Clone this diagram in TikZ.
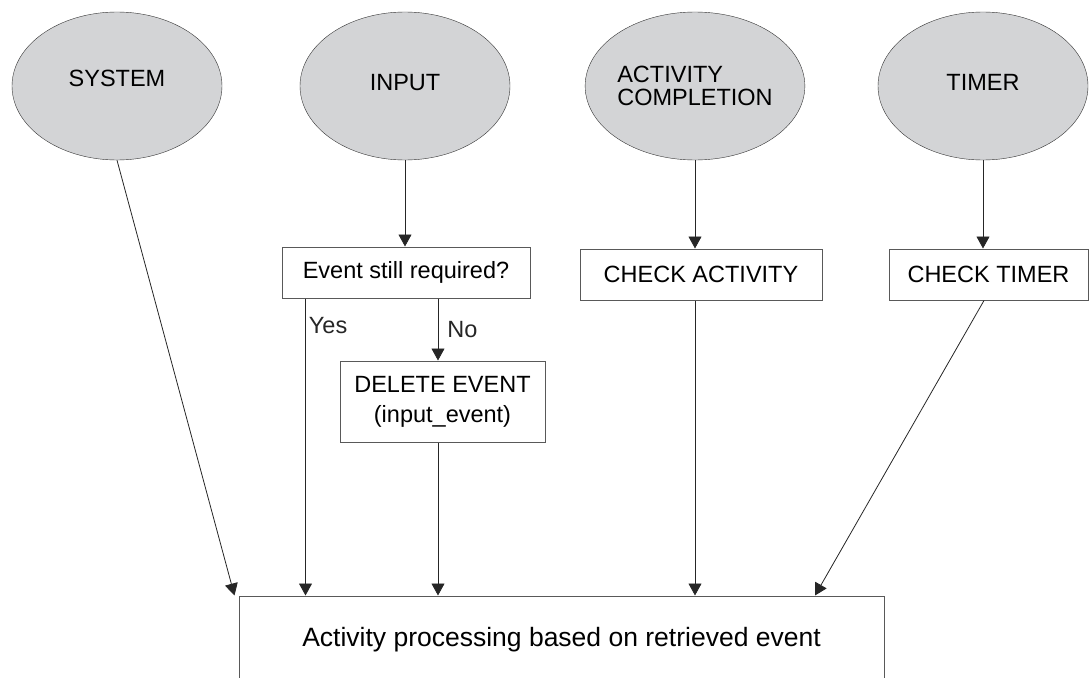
\documentclass[tikz,border=0pt]{standalone}
\usepackage{fontspec}
\setmainfont{Liberation Sans}
\usetikzlibrary{shapes.geometric,arrows.meta}
\definecolor{srcgray}{RGB}{211,212,214}
\begin{document}
\begin{tikzpicture}[x=1pt,y=-1pt,
    src/.style={draw=black!80,fill=srcgray,ellipse,minimum width=210pt,minimum height=148pt,inner sep=0pt,font=\fontsize{23.5}{23}\selectfont},
    stepbox/.style={draw=black!65,line width=1pt,minimum height=51pt,inner sep=0pt,font=\fontsize{23.5}{30}\selectfont},
    lbl/.style={inner sep=3pt,font=\fontsize{23.5}{28}\selectfont},
    arr/.style={black!85,line width=0.8pt,-{Triangle[width=13pt,length=12pt]}}]
                \useasboundingbox (0,0) rectangle (1089,677);
                \clip (0,0) rectangle (1089,677);
                % event sources
                \node[src,text depth=16pt] (sys) at (117,86) {SYSTEM};
                \node[src,text depth=8pt] (inp) at (405,86) {INPUT};
                \node[src,align=left] (act) at (695,86) {ACTIVITY\\COMPLETION};
                \node[src,text depth=8pt] (tim) at (983,86) {TIMER};
                % checks
                \node[stepbox,minimum width=248pt] (ask) at (406,272.5) {Event still required?};
                \node[stepbox,minimum width=205pt,minimum height=81pt,align=center] (del) at (442.5,401.5) {DELETE EVENT\\(input\_event)};
                \node[stepbox,minimum width=242pt] (chkact) at (701,274.5) {CHECK ACTIVITY};
                \node[stepbox,minimum width=199pt] (chktim) at (988.5,274.5) {CHECK TIMER};
                \node[stepbox,minimum width=645pt,minimum height=88pt,font=\fontsize{26.5}{32}\selectfont] (proc) at (561.5,640) {Activity processing based on retrieved event};
                % connectors
                \draw[arr] (sys.south) -- ([xshift=-4pt]proc.north west);
                \draw[arr] (inp.south) -- (inp.south |- ask.north);
                \draw[arr] ([xshift=24pt]ask.south west) -- ([xshift=24pt]ask.south west |- proc.north) node[lbl,pos=0.09,anchor=west] (yes) {Yes};
                \draw[arr] ([xshift=32pt]ask.south) -- ([xshift=32pt]ask.south |- del.north) node[lbl,midway,anchor=west,xshift=6pt] (no) {No};
                \draw[arr] ([xshift=-4.5pt]del.south) -- ([xshift=-4.5pt]del.south |- proc.north);
                \draw[arr] (act.south) -- (act.south |- chkact.north);
                \draw[arr] (act.south |- chkact.south) -- (act.south |- proc.north);
                \draw[arr] (tim.south) -- (tim.south |- chktim.north);
                \draw[arr] ([xshift=-4.5pt]chktim.south) -- ([xshift=253.5pt]proc.north);
\end{tikzpicture}
\end{document}
